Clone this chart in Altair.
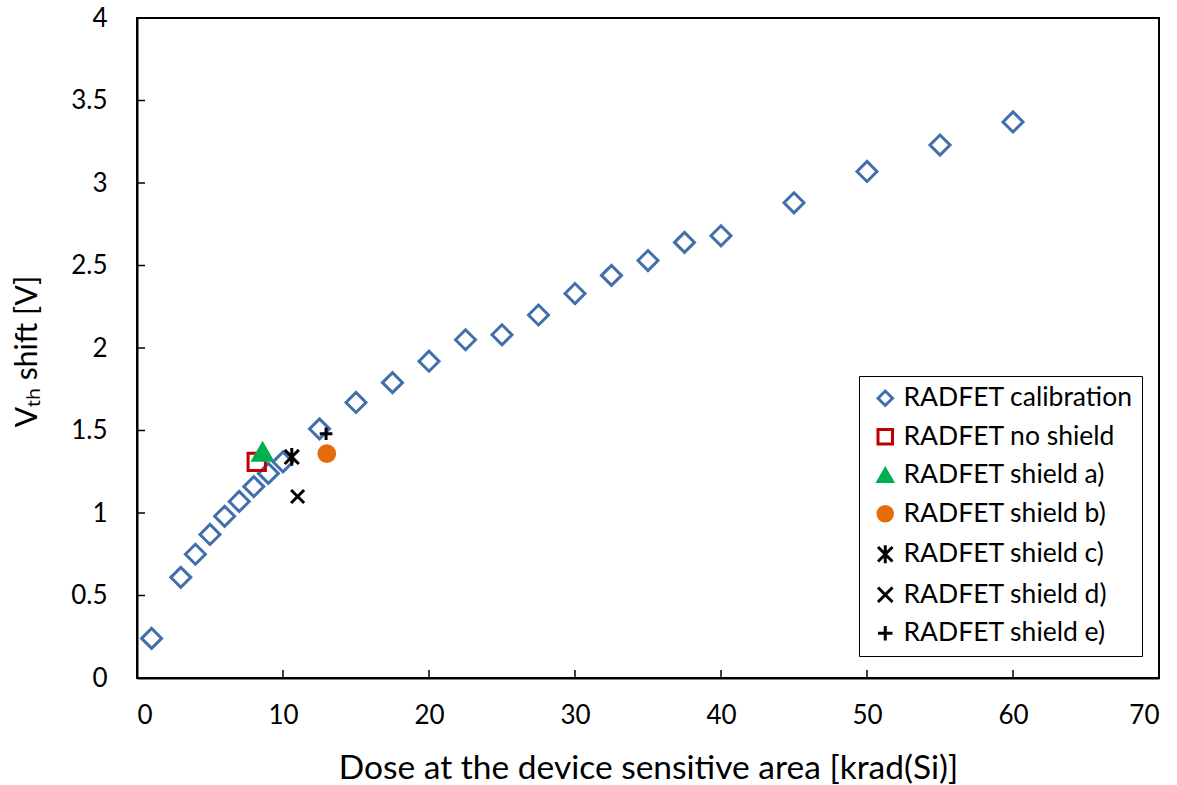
import altair as alt
import pandas as pd

# RADFET calibration curve: threshold-voltage shift vs. absorbed dose
cal_dose = [1, 3, 4, 5, 6, 7, 8, 9, 10, 12.5, 15, 17.5, 20, 22.5, 25, 27.5,
            30, 32.5, 35, 37.5, 40, 45, 50, 55, 60]
cal_vth = [0.24, 0.61, 0.75, 0.87, 0.98, 1.07, 1.16, 1.24, 1.31, 1.51, 1.67,
           1.79, 1.92, 2.05, 2.08, 2.20, 2.33, 2.44, 2.53, 2.64, 2.68, 2.88,
           3.07, 3.23, 3.37]

# Single measurements with the different shield configurations
meas_names = ["RADFET no shield", "RADFET shield a)", "RADFET shield b)",
              "RADFET shield c)", "RADFET shield d)", "RADFET shield e)"]
meas_dose = [8.2, 8.6, 13.0, 10.6, 11.0, 12.95]
meas_vth = [1.31, 1.37, 1.36, 1.34, 1.10, 1.48]

series = ["RADFET calibration"] + meas_names
x_ticks = [0, 10, 20, 30, 40, 50, 60, 70]
y_ticks = [0, 0.5, 1, 1.5, 2, 2.5, 3, 3.5, 4]

ASTERISK = "M-1,-1L1,1M-1,1L1,-1M0,-1.25L0,1.25"
XMARK = "M-1,-1L1,1M-1,1L1,-1"
PLUS = "M-1,0L1,0M0,-1L0,1"

shapes = ["diamond", "square", "triangle-up", "circle", ASTERISK, XMARK, PLUS]
strokes = ["#4070AC", "#C00000", "#00B050", "#E36C09", "#000000", "#000000", "#000000"]
fills = ["transparent", "transparent", "#00B050", "#E36C09",
         "transparent", "transparent", "transparent"]
marker_area = dict(zip(series, [400, 300, 360, 250, 200, 170, 160]))

df = pd.DataFrame({
    "dose": cal_dose + meas_dose,
    "vth": cal_vth + meas_vth,
    "series": ["RADFET calibration"] * len(cal_dose) + meas_names,
})
df["area"] = df["series"].map(marker_area)

W, H = 1022, 660
FONT = "Lato"

x_scale = alt.Scale(domain=[0, 70], nice=False)
y_scale = alt.Scale(domain=[0, 4], nice=False)

legend = alt.Legend(
    title=None, orient="none", legendX=722, legendY=358,
    labelFont=FONT, labelFontSize=26.5, labelColor="#000000", labelLimit=400,
    strokeColor="#000000", padding=9, rowPadding=11.5,
    symbolOffset=4, labelOffset=5, symbolSize=210, symbolStrokeWidth=3,
    fillColor="#ffffff",
)

x_axis = alt.Axis(values=x_ticks, title="Dose at the device sensitive area [krad(Si)]",
                  labelPadding=24, titleFontSize=33.5, titleY=90, titleBaseline="middle")
y_axis = alt.Axis(values=y_ticks, format=".1~f", title="Vₜₕ shift [V]",
                  labelPadding=30, titleFontSize=30,
                  titleX=-110, titleY=333, titleAngle=-90,
                  titleAlign="center", titleBaseline="middle")

points = alt.Chart(df).mark_point(strokeWidth=3, opacity=1).encode(
    x=alt.X("dose:Q", scale=x_scale, axis=x_axis),
    y=alt.Y("vth:Q", scale=y_scale, axis=y_axis),
    shape=alt.Shape("series:N", scale=alt.Scale(domain=series, range=shapes), legend=legend),
    stroke=alt.Stroke("series:N", scale=alt.Scale(domain=series, range=strokes), legend=legend),
    fill=alt.Fill("series:N", scale=alt.Scale(domain=series, range=fills), legend=legend),
    size=alt.Size("area:Q", scale=None),
)

# inward-pointing tick marks along the bottom and left axes
xt = alt.Chart(pd.DataFrame({"t": x_ticks})).mark_rule(color="#000000", strokeWidth=1.5).encode(
    x=alt.X("t:Q", scale=x_scale, axis=x_axis),
    y=alt.value(H), y2=alt.value(H - 8),
)
yt = alt.Chart(pd.DataFrame({"t": y_ticks})).mark_rule(color="#000000", strokeWidth=1.5).encode(
    y=alt.Y("t:Q", scale=y_scale, axis=y_axis),
    x=alt.value(0), x2=alt.value(8),
)

chart = alt.layer(points, xt, yt).properties(
    width=W, height=H,
    background="#ffffff",
    autosize=alt.AutoSizeParams(type="none"),
    padding={"left": 137, "top": 18, "right": 18, "bottom": 107},
).configure_view(
    stroke="#000000", strokeWidth=2,
).configure_axis(
    grid=False, domainColor="#000000", domainWidth=2, ticks=False,
    labelFont=FONT, labelFontSize=26, labelColor="#000000",
    titleFont=FONT, titleFontWeight="normal", titleColor="#000000",
)

chart.save("out.html", embed_options={"renderer": "svg", "actions": False})
